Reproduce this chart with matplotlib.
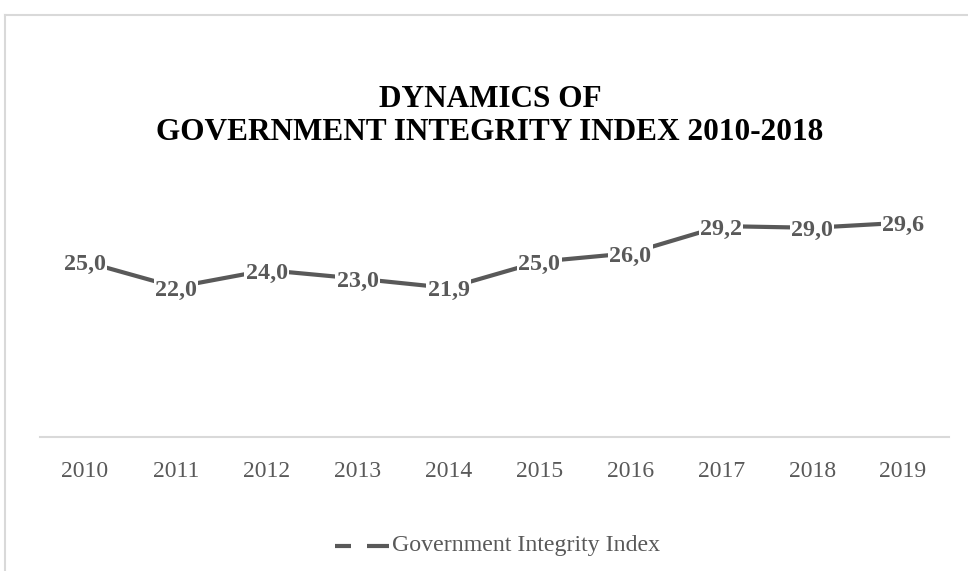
import matplotlib
matplotlib.use("Agg")
import matplotlib.pyplot as plt
from matplotlib.lines import Line2D
import matplotlib.transforms as mtransforms

years = ["2010", "2011", "2012", "2013", "2014", "2015", "2016", "2017", "2018", "2019"]
values = [25.0, 22.0, 24.0, 23.0, 21.9, 25.0, 26.0, 29.2, 29.0, 29.6]
series_name = "Government Integrity Index"
title = "DYNAMICS OF\nGOVERNMENT INTEGRITY INDEX 2010-2018"

W, H = 968, 571
plt.rcParams['font.family'] = ['Liberation Serif', 'DejaVu Serif']
fig = plt.figure(figsize=(W / 100, H / 100), dpi=100)
fig.patch.set_facecolor("white")

def fx(px):
    return px / W

def fy(py):
    return 1 - py / H

# outer frame (left and top edges visible)
fig.add_artist(Line2D([fx(5), fx(5)], [fy(15), 0], color="#d9d9d9", lw=1.5, transform=fig.transFigure))
fig.add_artist(Line2D([fx(5), 1], [fy(15), fy(15)], color="#d9d9d9", lw=1.5, transform=fig.transFigure))

left, right, bottom, top = 39.5, 948.5, 437, 182
ax = fig.add_axes([fx(left), fy(bottom), fx(right - left), (bottom - top) / H])
ax.set_xlim(-0.5, len(years) - 0.5)
ax.set_ylim(4.3, 4.3 + (bottom - top) / 8.47)

x = list(range(len(years)))
ax.plot(x, values, color="#595959", lw=3.0, solid_capstyle="butt", zorder=2)
lab_tr = ax.transData + mtransforms.ScaledTranslation(0, -3 / 100, fig.dpi_scale_trans)
for xi, v in zip(x, values):
    ax.text(xi, v, f"{v:.1f}".replace(".", ","), ha="center", va="center",
            fontsize=17.3, fontweight="bold", color="#595959", zorder=3,
            transform=lab_tr,
            bbox=dict(boxstyle="square,pad=0.05", fc="white", ec="none"))

for s in ["left", "right", "top"]:
    ax.spines[s].set_visible(False)
ax.spines["bottom"].set_color("#d9d9d9")
ax.spines["bottom"].set_linewidth(1.5)
ax.set_yticks([])
ax.set_xticks(x)
ax.set_xticklabels(years, fontsize=17, color="#595959")
ax.tick_params(axis="x", length=0, pad=17)

fig.text(fx(490), fy(116), title, ha="center", va="center", fontsize=22.5,
         fontweight="bold", color="black", linespacing=1.18)

# legend
ly = fy(546)
fig.add_artist(Line2D([fx(335), fx(351)], [ly, ly], color="#595959", lw=3.0,
                      solid_capstyle="butt", transform=fig.transFigure))
fig.add_artist(Line2D([fx(367), fx(389)], [ly, ly], color="#595959", lw=3.0,
                      solid_capstyle="butt", transform=fig.transFigure))
fig.text(fx(392), ly, series_name, ha="left", va="center", fontsize=17.2, color="#595959")

fig.savefig("out.png", dpi=100)
